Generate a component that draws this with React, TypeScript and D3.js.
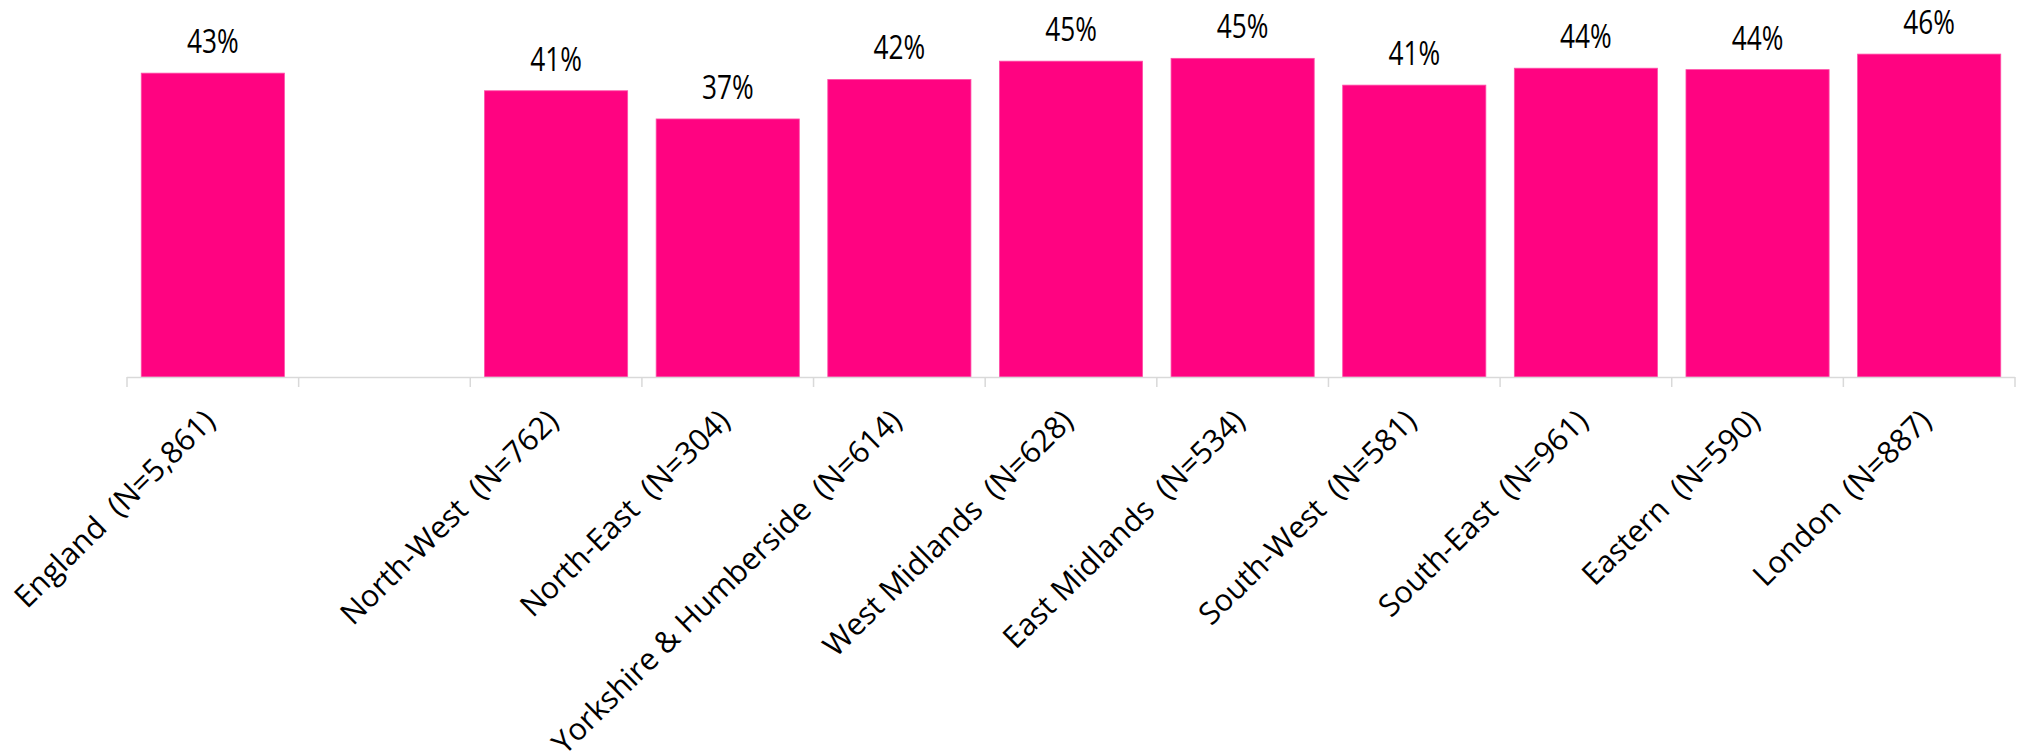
import React from "react";
import * as d3 from "d3";

const categories = [
  "England  (N=5,861)",
  "",
  "North-West  (N=762)",
  "North-East  (N=304)",
  "Yorkshire & Humberside  (N=614)",
  "West Midlands  (N=628)",
  "East Midlands  (N=534)",
  "South-West  (N=581)",
  "South-East  (N=961)",
  "Eastern  (N=590)",
  "London  (N=887)",
];

const values: (number | null)[] = [43.1, null, 40.6, 36.6, 42.2, 44.8, 45.2, 41.4, 43.8, 43.6, 45.8];

const W = 2020;
const H = 751;
const axisY = 377;
const x0 = 127;
const x1 = 2015;

export default function App() {
  const keys = categories.map((_, i) => String(i));
  const x = d3.scaleBand<string>().domain(keys).range([x0, x1]).paddingInner(0).paddingOuter(0);
  const y = d3.scaleLinear().domain([0, 50]).range([axisY, 24.5]);
  const bw = x.bandwidth();
  const inset = bw * 0.083;
  const boundaries = keys.map((k) => x(k) as number).concat([x1]);

  return (
    <svg
      width={W}
      height={H}
      viewBox={`0 0 ${W} ${H}`}
      style={{ position: "absolute", left: 0, top: 0, background: "#fff" }}
    >
      {values.map((v, i) =>
        v == null ? null : (
          <rect
            key={"b" + i}
            x={(x(keys[i]) as number) + inset}
            y={y(v)}
            width={bw - 2 * inset}
            height={axisY - y(v)}
            fill="#FF0381"
            stroke="#ff4fa8"
            strokeWidth={0.8}
          />
        )
      )}
      <line x1={x0} x2={x1} y1={axisY + 0.5} y2={axisY + 0.5} stroke="#d9d9d9" strokeWidth={1.5} />
      {boundaries.map((bx, i) => (
        <line key={"t" + i} x1={bx} x2={bx} y1={axisY} y2={axisY + 10} stroke="#d9d9d9" strokeWidth={1.5} />
      ))}
      {values.map((v, i) =>
        v == null ? null : (
          <text
            key={"l" + i}
            transform={`translate(${(x(keys[i]) as number) + bw / 2},${y(v) - 20}) scale(0.82,1)`}
            textAnchor="middle"
            fontFamily="'Open Sans', sans-serif"
            fontSize={32}
            fill="#000"
          >
            {`${Math.round(v)}%`}
          </text>
        )
      )}
      {categories.map((c, i) =>
        c === "" ? null : (
          <text
            key={"c" + i}
            transform={`translate(${(x(keys[i]) as number) + bw / 2 + 4},${axisY + 46}) rotate(-44.5)`}
            textAnchor="end"
            fontFamily="'Open Sans', sans-serif"
            fontSize={30.5}
            fill="#000"
            style={{ whiteSpace: "pre" }}
          >
            {c}
          </text>
        )
      )}
    </svg>
  );
}
